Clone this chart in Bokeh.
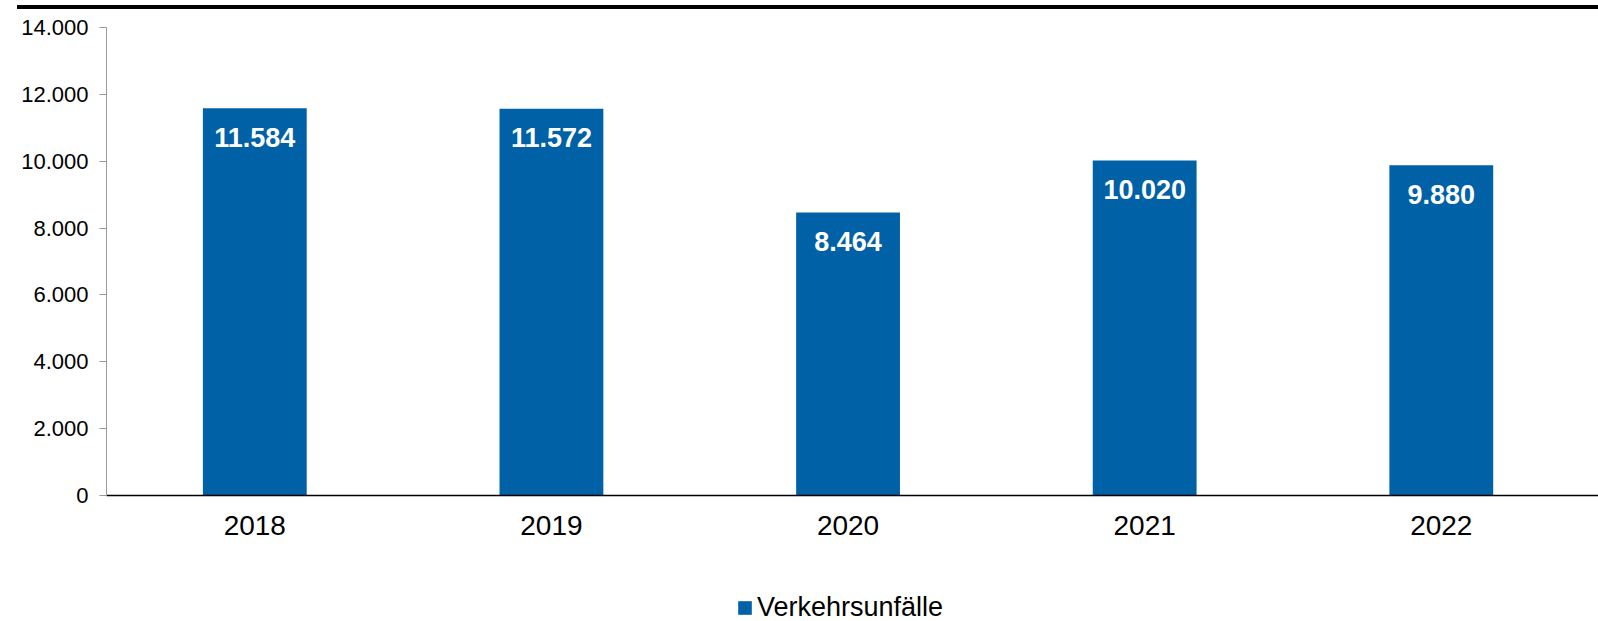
from bokeh.plotting import figure
from bokeh.models import Range1d, FixedTicker, ColumnDataSource, LabelSet, Legend, LegendItem, Div
from bokeh.layouts import column
from bokeh.embed import file_html
from bokeh.resources import INLINE
from bokeh.core.properties import value

years = [2018, 2019, 2020, 2021, 2022]
accidents = [11584, 11572, 8464, 10020, 9880]
labels = ["11.584", "11.572", "8.464", "10.020", "9.880"]
y_ticks = [0, 2000, 4000, 6000, 8000, 10000, 12000, 14000]
y_tick_labels = ["0", "2.000", "4.000", "6.000", "8.000", "10.000", "12.000", "14.000"]
series_name = "Verkehrsunfälle"

BLUE = "#0061A6"
FONT = "Liberation Sans"

src = ColumnDataSource(dict(x=years, y=accidents, lab=labels))

# thick black rule at the top (starts 17px from the left edge)
rule = Div(text="", width=1598, height=4, margin=(5, 0, 0, 0),
           styles={"background": "linear-gradient(to right, #ffffff 0px, #ffffff 17px, #000000 17px, #000000 100%)"})

p = figure(width=1598, height=541, output_backend="svg", toolbar_location=None,
           x_range=Range1d(2017.5, 2022.53), y_range=Range1d(0, 14000),
           min_border_left=106, min_border_right=0, min_border_top=18, min_border_bottom=55)
p.outline_line_color = None
p.grid.visible = False
p.margin = 0

r = p.vbar(x="x", top="y", width=0.35, bottom=0, source=src, fill_color=BLUE, line_color=None)

lab = LabelSet(x="x", y="y", text="lab", source=src, text_align="center", text_baseline="middle",
               y_offset=-29, text_color="white", text_font=value(FONT), text_font_style="bold",
               text_font_size="27px")
p.add_layout(lab)

# axes
p.yaxis.ticker = FixedTicker(ticks=y_ticks)
p.yaxis.major_label_overrides = {t: s for t, s in zip(y_ticks, y_tick_labels)}
p.yaxis.axis_line_color = "#999999"
p.yaxis.major_tick_line_color = "#999999"
p.yaxis.major_tick_out = 7
p.yaxis.major_tick_in = 0
p.yaxis.minor_tick_line_color = None
p.yaxis.major_label_standoff = 11
p.yaxis.major_label_text_font = FONT
p.yaxis.major_label_text_font_size = "22px"
p.yaxis.major_label_text_color = "black"

p.xaxis.ticker = FixedTicker(ticks=years)
p.xaxis.major_label_overrides = {y: str(y) for y in years}
p.xaxis.axis_line_color = "black"
p.xaxis.axis_line_width = 1.5
p.xaxis.major_tick_line_color = None
p.xaxis.minor_tick_line_color = None
p.xaxis.major_label_standoff = 14
p.xaxis.major_label_text_font = FONT
p.xaxis.major_label_text_font_size = "28px"
p.xaxis.major_label_text_color = "black"

# legend strip below the chart (its frame is aligned with the chart frame)
pl = figure(width=1598, height=71, output_backend="svg", toolbar_location=None,
            x_range=Range1d(0, 1), y_range=Range1d(0, 1), min_border=0,
            x_axis_type=None, y_axis_type=None)
pl.outline_line_color = None
pl.grid.visible = False
pl.margin = 0
leg_r = pl.vbar(x="x", top="y", width=0.35, bottom=0, source=src, fill_color=BLUE, line_color=None)
legend = Legend(items=[LegendItem(label=series_name, renderers=[leg_r])], orientation="horizontal",
                location=(630, -2), border_line_color=None, background_fill_alpha=0,
                glyph_width=17, glyph_height=17, label_standoff=4,
                label_text_font=FONT, label_text_font_size="27px", label_text_color="black",
                padding=0, margin=0)
pl.add_layout(legend)

layout = column(rule, p, pl, spacing=0)

open("out.html", "w").write(file_html(layout, INLINE))
